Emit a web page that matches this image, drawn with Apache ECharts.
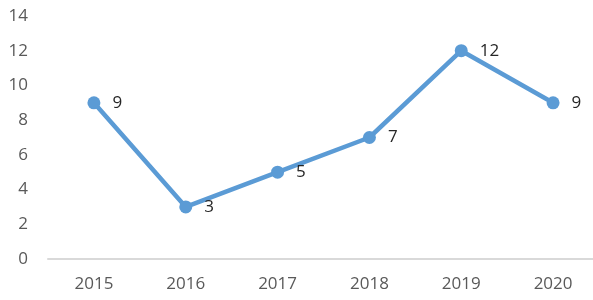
<!DOCTYPE html>
<html><head><meta charset="utf-8">
<script src="https://cdn.jsdelivr.net/npm/echarts@6/dist/echarts.min.js"></script>
<style>html,body{margin:0;padding:0;background:#fff}#c{width:593px;height:300px}</style>
</head><body><div id="c"></div>
<script>
const categories = ['2015','2016','2017','2018','2019','2020'];
const values = [9, 3, 5, 7, 12, 9];
const yTicks = {min: 0, max: 14, interval: 2};

const chart = echarts.init(document.getElementById('c'), null, {renderer: 'canvas'});
chart.setOption({
  animation: false,
  grid: {left: 48, right: -6, top: 16, bottom: 41, outerBoundsMode: 'none', containLabel: false},
  xAxis: {
    type: 'category', data: categories, boundaryGap: true,
    axisLine: {show: true, lineStyle: {color: '#d9d9d9', width: 2}},
    axisTick: {show: false},
    axisLabel: {color: '#595959', fontSize: 17, fontFamily: 'Open Sans', margin: 17}
  },
  yAxis: {
    type: 'value', min: yTicks.min, max: yTicks.max, interval: yTicks.interval,
    splitLine: {show: false}, axisLine: {show: false}, axisTick: {show: false},
    axisLabel: {color: '#595959', fontSize: 17, fontFamily: 'Open Sans', margin: 20}
  },
  series: [{
    type: 'line', data: values,
    symbol: 'circle', symbolSize: 13,
    lineStyle: {color: '#5B9BD5', width: 4.5},
    itemStyle: {color: '#5B9BD5'},
    label: {show: true, position: 'right', distance: 12, color: '#262626', fontSize: 17, fontFamily: 'Open Sans'}
  }]
});
</script></body></html>
